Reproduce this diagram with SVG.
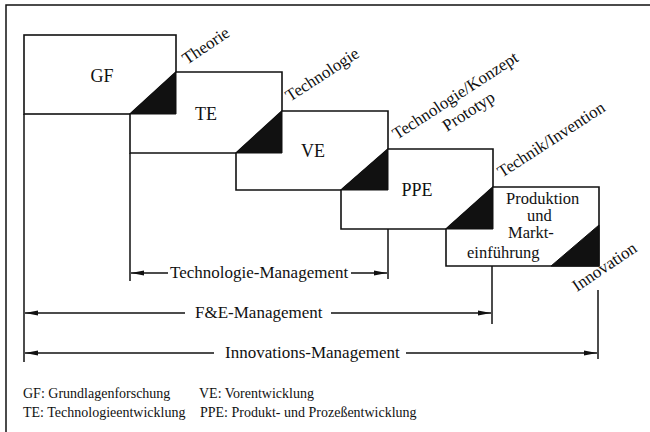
<svg xmlns="http://www.w3.org/2000/svg" width="650" height="432" viewBox="0 0 650 432">
<style>
text{font-family:"Liberation Serif","Times New Roman",serif;fill:#111}
.box{fill:#fff;stroke:#111;stroke-width:1.6}
.tri{fill:#111;stroke:#111;stroke-width:1}
.lbl{font-size:18px;text-anchor:middle}
.pm{font-size:16.5px}
.rot{font-size:17px}
.mg{font-size:17px}
.leg{font-size:14px}
.ln{stroke:#111;stroke-width:1.5;fill:none}
.ar{stroke:#111;stroke-width:1.3;fill:none}
</style>
<defs>
<marker id="ah" markerWidth="14" markerHeight="6" refX="13" refY="3" orient="auto" markerUnits="userSpaceOnUse">
<path d="M0,0.6 L13,3 L0,5.4 Z" fill="#111"/>
</marker>
</defs>
<rect x="0" y="0" width="650" height="432" fill="#fff"/>
<path class="ln" d="M6,433 V5 H651"/>

<g id="connectors">
<path class="ln" d="M24,114 V362"/>
<path class="ln" d="M130,153 V281"/>
<path class="ln" d="M388,229 V279"/>
<path class="ln" d="M492,266 V324"/>
<path class="ln" d="M598,290 V359"/>
<path class="ar" d="M168,273 H131" marker-end="url(#ah)"/>
<path class="ar" d="M351,273 H387" marker-end="url(#ah)"/>
<path class="ar" d="M185,313 H25" marker-end="url(#ah)"/>
<path class="ar" d="M331,313 H491" marker-end="url(#ah)"/>
<path class="ar" d="M214,353 H25" marker-end="url(#ah)"/>
<path class="ar" d="M406,353 H597" marker-end="url(#ah)"/>
</g>

<g id="GF">
<rect class="box" x="24" y="35" width="152" height="79"/>
<text class="lbl" x="102" y="82">GF</text>
</g>
<g id="TE">
<path class="box" d="M130,114 L176,72 H282 V153 H130 Z"/>
<path class="tri" d="M130,114 L176,72 V114 Z"/>
<text class="lbl" x="206" y="120">TE</text>
</g>
<g id="VE">
<path class="box" d="M236,153 L282,111 H388 V190 H236 Z"/>
<path class="tri" d="M236,153 L282,111 V153 Z"/>
<text class="lbl" x="313" y="157">VE</text>
</g>
<g id="PPE">
<path class="box" d="M341,190 L388,149 H493 V229 H341 Z"/>
<path class="tri" d="M341,190 L388,149 V190 Z"/>
<text class="lbl" x="417" y="196">PPE</text>
</g>
<g id="PM">
<path class="box" d="M446,229 L493,187 H599 V266 H446 Z"/>
<path class="tri" d="M446,229 L493,187 V229 Z"/>
<path class="tri" d="M551,266 L599,225 V266 Z"/>
<text class="pm" x="506" y="204">Produktion</text>
<text class="pm" x="527" y="221">und</text>
<text class="pm" x="508" y="238">Markt-</text>
<text class="pm" x="467" y="258">einführung</text>
</g>

<g id="labels">
<text class="rot" transform="translate(187,65) rotate(-34)">Theorie</text>
<text class="rot" transform="translate(290,102) rotate(-33)">Technologie</text>
<text class="rot" transform="translate(397,140) rotate(-33)">Technologie/Konzept</text>
<text class="rot" transform="translate(447,132) rotate(-33)">Prototyp</text>
<text class="rot" transform="translate(502,178) rotate(-33)">Technik/Invention</text>
<text class="rot" transform="translate(577,292) rotate(-34)">Innovation</text>
</g>

<g id="management">
<text class="mg" x="170" y="278">Technologie-Management</text>
<text class="mg" x="195" y="318">F&amp;E-Management</text>
<text class="mg" x="225" y="358">Innovations-Management</text>
</g>

<g id="legend">
<text class="leg" x="23" y="398">GF: Grundlagenforschung</text>
<text class="leg" x="199" y="398">VE: Vorentwicklung</text>
<text class="leg" x="23" y="417">TE: Technologieentwicklung</text>
<text class="leg" x="200" y="417">PPE: Produkt- und Prozeßentwicklung</text>
</g>
</svg>
